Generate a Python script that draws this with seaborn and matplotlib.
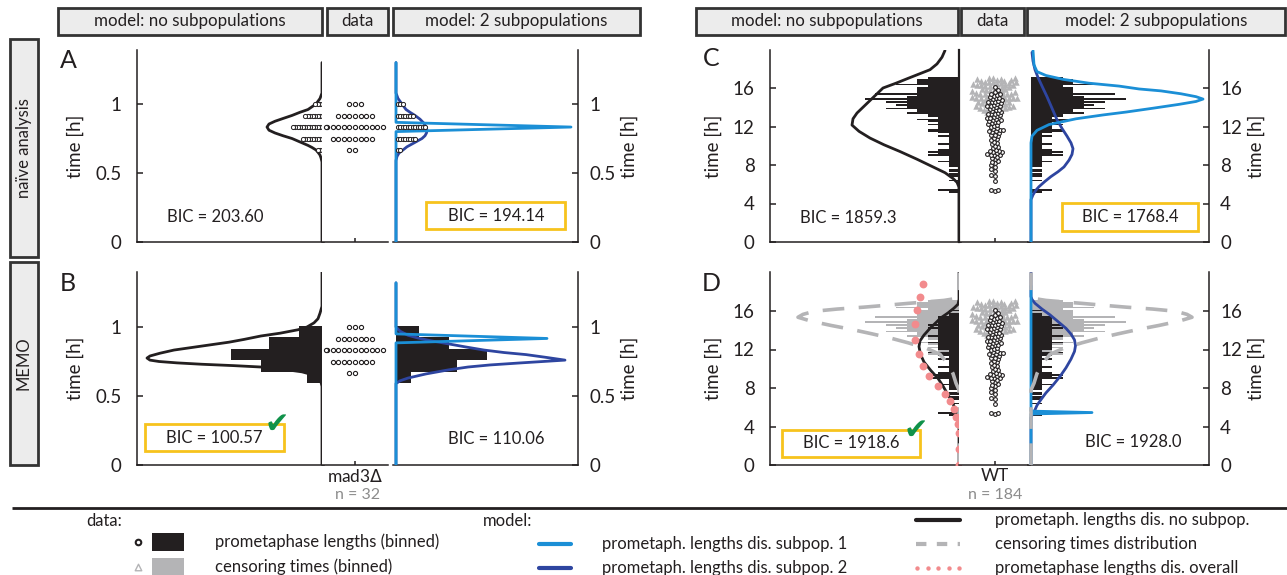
import numpy as np
import matplotlib
matplotlib.use("Agg")
import matplotlib.pyplot as plt
from matplotlib.patches import Rectangle
from matplotlib.markers import MarkerStyle
import seaborn as sns

W, H = 1287, 575

# ---------------- data ----------------
# mad3-delta cells (panels A, B): prometaphase length [min] and number of cells
mad3_minutes = [40, 45, 50, 55, 60]
mad3_cells = [2, 8, 12, 7, 3]

# wild type cells (panels C, D) [min]: observed prometaphase lengths and censoring times
wt_events = [315, 325, 325, 380, 410, 420, 445, 455, 470, 480,
             490, 500, 505, 515, 525, 530, 540, 545, 545, 550,
             555, 560, 560, 565, 570, 575, 585, 590, 600, 610,
             615, 625, 635, 640, 650, 660, 665, 670, 680, 685,
             690, 695, 700, 700, 705, 710, 720, 725, 730, 735,
             740, 745, 750, 755, 760, 760, 765, 770, 775, 780,
             785, 790, 795, 800, 800, 805, 810, 815, 820, 825,
             830, 835, 840, 845, 850, 850, 855, 860, 865, 870,
             870, 875, 880, 885, 890, 895, 900, 905, 910, 915,
             920, 925, 935, 945, 965]
wt_censored = [695, 715, 735, 750, 765, 780, 790,
               800, 805, 810, 815, 820, 825, 830, 835, 835, 835, 835,
               840, 845, 845, 850, 855, 855, 860, 860, 865, 870, 870, 875, 875, 880,
               885, 885, 890, 895, 895, 895, 895, 895, 895,
               900, 905, 905, 910, 915, 920, 925, 925, 925, 925, 925,
               930, 935, 935, 940, 940, 945, 950, 950, 955, 955, 960, 965, 965, 970,
               975, 975, 980, 980, 980, 980,
               985, 985, 990, 990, 995, 995, 1000, 1000, 1005, 1005, 1010, 1010,
               1015, 1015, 1020, 1020, 1025]

# model densities along the time axis [h]; densities in arbitrary units
A_none_t = [0, 0.58, 0.61, 0.63, 0.65, 0.667, 0.685, 0.70, 0.725, 0.75, 0.77, 0.79, 0.81, 0.833,
            0.855, 0.875, 0.895, 0.917, 0.94, 0.96, 0.98, 1.0, 1.02, 1.04, 1.06, 1.08, 1.30]
A_none_d = [0, 0, 1, 2, 4, 6, 10, 14, 22, 30, 39, 47, 53, 55,
            53, 47, 39, 30, 22, 14, 10, 6, 4, 2, 1, 0, 0]
A_sub2_t = [0, 0.59, 0.62, 0.645, 0.667, 0.69, 0.71, 0.73, 0.75, 0.77, 0.79, 0.81, 0.833, 0.86,
            0.89, 0.917, 0.94, 0.96, 0.98, 1.0, 1.02, 1.04, 1.06, 1.08, 1.30]
A_sub2_d = [0, 0, 1, 3, 7, 11, 16, 21, 26, 29, 30.5, 31, 30, 28,
            24, 19, 14, 10, 8, 6, 4, 2, 1, 0, 0]
A_sub1_t = [0, 0.80, 0.833, 0.867, 1.30]
A_sub1_d = [0, 0, 175, 0, 0]

B_none_t = [0, 0.57, 0.60, 0.63, 0.655, 0.675, 0.69, 0.70, 0.71, 0.72, 0.73, 0.74, 0.75, 0.76,
            0.775, 0.79, 0.81, 0.833, 0.86, 0.89, 0.91, 0.935, 0.955, 0.98, 1.0, 1.03, 1.06,
            1.10, 1.15, 1.40]
B_none_d = [0, 0, 1, 4, 10, 20, 35, 48, 61, 88, 120, 145, 163, 172,
            175, 172, 162, 148, 122, 93, 78, 61, 42, 24, 15, 8, 4,
            2, 0, 0]
B_sub2_t = [0, 0.59, 0.61, 0.63, 0.66, 0.69, 0.71, 0.725, 0.74, 0.76, 0.78, 0.80, 0.815, 0.833,
            0.855, 0.877, 0.90, 0.92, 0.94, 0.97, 1.0, 1.32]
B_sub2_d = [0, 0, 4, 12, 30, 53, 72, 94, 125, 169, 150, 130, 108, 88,
            70, 53, 35, 22, 12, 4, 0, 0]
B_sub1_t = [0, 0.885, 0.917, 0.95, 1.32]
B_sub1_d = [0, 0, 151, 0, 0]

C_none_t = [0, 5.7, 6.2, 6.6, 7.2, 7.8, 8.6, 9.4, 10.1, 10.8, 11.5, 12.15, 12.8, 13.4, 14.1,
            14.8, 15.4, 16.0, 16.5, 17.0, 17.45, 17.9, 18.5, 19.2, 19.9]
C_none_d = [0, 0, 2, 6, 14, 26, 42, 59, 75, 89, 100, 107, 106, 102, 95,
            88, 82, 76, 63, 51, 40, 29, 22, 17, 14]
C_sub1_t = [0, 10.3, 11.0, 11.6, 12.2, 12.8, 13.2, 13.5, 13.9, 14.3, 14.6, 14.85, 15.1, 15.4,
            15.7, 15.9, 16.2, 16.5, 16.9, 17.3, 17.7, 18.4, 19.9]
C_sub1_d = [0, 0, 1, 6, 18, 45, 72, 95, 122, 148, 165, 172, 165, 150,
            130, 108, 88, 58, 32, 15, 6, 3, 2]
C_sub2_t = [0, 4.4, 4.9, 5.4, 5.75, 6.3, 6.8, 7.3, 7.8, 8.5, 9.1, 9.7, 10.3, 11.0, 11.8,
            12.7, 13.9, 15.1, 16.2, 17.1, 17.9, 18.8, 19.7]
C_sub2_d = [0, 0, 2, 5, 8, 14, 20, 27, 33, 38, 41, 42, 40, 36, 31,
            26, 21, 16, 11, 7, 4, 2, 1]

D_none_t = [0, 3.8, 4.6, 5.5, 6.4, 7.3, 8.2, 9.0, 9.8, 10.7, 11.5, 12.3, 12.9, 13.5, 14.2,
            14.8, 15.3, 15.8, 16.3, 16.7, 17.2, 20]
D_none_d = [0, 0, 1, 3, 6, 11, 16, 21, 28, 35, 38.5, 40, 39, 35, 29,
            23, 18, 11, 5, 1, 0, 0]
D_sub2_t = [0, 4.9, 5.2, 5.5, 6.2, 6.8, 7.5, 8.3, 9.2, 10.1, 11.0, 11.8, 12.4, 13.0, 13.6,
            14.2, 14.9, 15.6, 16.2, 16.8, 17.2, 17.5, 20]
D_sub2_d = [0, 0, 1, 3, 6, 10, 15, 22, 29, 35, 40, 43.5, 44.5, 43.5, 40,
            35, 27, 19, 11, 4, 1, 0, 0]
D_sub1_t = [0, 5.3, 5.45, 5.6, 18.6]
D_sub1_d = [0, 0, 61, 0, 0]
D_cens_t = [0, 7.8, 8.5, 9.5, 10.5, 11.5, 12.1, 12.7, 13.2, 13.65, 14.1, 14.5, 14.95, 15.35,
            15.65, 15.97, 16.2, 16.4, 16.6, 16.8, 16.95, 17.1, 17.25, 17.4, 20]
D_cens_d = [0, 0, 3, 6, 11, 19, 32, 51, 69, 88, 108, 128, 148, 161,
            156, 145, 122, 95, 72, 50, 32, 15, 6, 0, 0]
D_all_t = [0, 1.7, 3.3, 4.3, 5.0, 5.8, 6.6, 7.4, 8.2, 9.2, 10.3, 11.5, 13.0, 14.7, 16.1, 17.5, 18.8]
D_all_d = [0, 0, 0, 1, 3, 5, 9, 14, 21, 30, 36, 40, 44, 44, 42, 39, 36]

BIC = {"A": ("203.60", "194.14"), "B": ("100.57", "110.06"),
       "C": ("1859.3", "1768.4"), "D": ("1918.6", "1928.0")}

# ---------------- style ----------------
BLACK = "#231f20"
LBLUE = "#1b8fd6"
DBLUE = "#2e45a0"
GRAY = "#b4b4b6"
PINK = "#f28b8d"
GOLD = "#f7c31d"
GREEN = "#10924a"

sns.set_theme(style="ticks")
plt.rcParams["font.family"] = ["Lato", "DejaVu Sans"]
plt.rcParams.update({"axes.linewidth": 1.1, "ytick.major.width": 1.1, "xtick.major.width": 1.1,
                     "text.color": BLACK, "axes.labelcolor": BLACK,
                     "xtick.color": BLACK, "ytick.color": BLACK,
                     "axes.edgecolor": BLACK})

fig = plt.figure(figsize=(W / 100, H / 100), dpi=100)


def axes_px(x0, y0, x1, y1):
    return fig.add_axes([x0 / W, 1 - y1 / H, (x1 - x0) / W, (y1 - y0) / H])


def box_px(x0, y0, x1, y1, **kw):
    fig.add_artist(Rectangle((x0 / W, 1 - y1 / H), (x1 - x0) / W, (y1 - y0) / H,
                             transform=fig.transFigure, **kw))


def text_px(x, y, s, **kw):
    kw.setdefault("ha", "center")
    kw.setdefault("va", "center")
    return fig.text(x / W, 1 - y / H, s, **kw)


def curve(ax, t, d, color, lw=2.0, **kw):
    sns.lineplot(x=d, y=t, sort=False, estimator=None, color=color, lw=lw, ax=ax,
                 zorder=3, **kw)


def hist(ax, t, edges, unit, color):
    sns.histplot(y=t, bins=list(edges), weights=np.full(len(t), unit),
                 color=color, alpha=1, linewidth=0, ax=ax)


def make_panel(xs, y_top, y_bot, px_per_h, yticks):
    xl0, base_l, xd1, xr0, base_r, xr1 = xs
    axl = axes_px(xl0, y_top, base_l + 2, y_bot)
    axd = axes_px(base_l, y_top, xd1, y_bot)
    axr = axes_px(xr0, y_top, xr1, y_bot)
    lims = dict(l=(base_l - xl0, -2), r=(-(base_r - xr0), xr1 - base_r),
                ymax=(y_bot - y_top) / px_per_h, yticks=yticks)
    return axl, axd, axr, lims


def finish(axl, axd, axr, lims, xlabel=None, data_spine=False):
    for ax in (axl, axd, axr):
        ax.set_ylim(0, lims["ymax"])
        ax.set_xlabel("")
        ax.set_ylabel("")
        for s in ax.spines.values():
            s.set_visible(False)
        ax.spines["bottom"].set_visible(True)
    axl.set_xlim(*lims["l"])
    axr.set_xlim(*lims["r"])
    axd.set_xlim(-0.45, 0.45)
    axl.spines["left"].set_visible(True)
    axr.spines["right"].set_visible(True)
    if data_spine:
        axd.spines["left"].set_visible(True)
        axd.spines["left"].set_linewidth(1.6)
    for ax in (axl, axr):
        ax.set_xticks([])
        ax.set_yticks(lims["yticks"])
        ax.set_yticklabels([f"{v:g}" for v in lims["yticks"]], fontsize=13.5)
        ax.set_ylabel("time [h]", fontsize=13.5)
    axl.tick_params(axis="y", direction="in", length=4, pad=11)
    axr.yaxis.tick_right()
    axr.yaxis.set_label_position("right")
    axr.tick_params(axis="y", direction="in", length=4, pad=8)
    axl.yaxis.labelpad = 8
    axr.yaxis.labelpad = 4
    axd.set_yticks([])
    axd.set_xticks([0])
    axd.set_xticklabels([xlabel or ""], fontsize=12.5)
    axd.tick_params(axis="x", direction="in", length=3, pad=2)


def enlarge(ax, marker, k):
    # draw the swarm markers larger than the spacing used to lay them out
    ms = MarkerStyle(marker)
    ax.collections[-1].set_paths([ms.get_path().transformed(ms.get_transform().frozen().scale(k))])


def swarm(ax, t_events, t_cens=None, size=3.0, grow=1.0):
    if t_cens is not None:
        sns.swarmplot(x=np.zeros(len(t_cens)), y=t_cens, native_scale=True, orient="x",
                      marker="^", color=GRAY, size=2.9, linewidth=0, ax=ax, warn_thresh=1)
        enlarge(ax, "^", 1.6)
    sns.swarmplot(x=np.zeros(len(t_events)), y=t_events, native_scale=True, orient="x",
                  marker="o", color="white", edgecolor=BLACK, linewidth=0.8, size=size,
                  ax=ax, warn_thresh=1)
    enlarge(ax, "o", grow)


mad3_h = np.repeat(mad3_minutes, mad3_cells) / 60
mad3_edges = (np.arange(35, 61, 5) + 0.5) / 60
ev_h = np.array(wt_events) / 60
ce_h = np.array(wt_censored) / 60
all_h = np.concatenate([ev_h, ce_h])
wt_edges = (np.arange(0, 1210, 10) - 2.5) / 60

LEFT = (137, 322, 388, 393, 396, 578)
RIGHT = (770, 959, 1030, 1028, 1031, 1209)
UNIT_CD = 10.5

# ---- panel A: naive, mad3 ----
axl, axd, axr, lims = make_panel(LEFT, 50, 242, 138, [0, 0.5, 1])
circ_x = np.concatenate([(np.arange(n) + 0.7) * 2.5 for n in mad3_cells])
for ax in (axl, axr):
    sns.scatterplot(x=circ_x, y=mad3_h, marker="o", s=9, facecolor="white",
                    edgecolor=BLACK, linewidth=0.7, ax=ax, zorder=4)
curve(axl, A_none_t, A_none_d, BLACK)
curve(axr, A_sub2_t, A_sub2_d, DBLUE)
curve(axr, A_sub1_t, A_sub1_d, LBLUE)
swarm(axd, mad3_h)
finish(axl, axd, axr, lims)

# ---- panel B: MEMO, mad3 ----
axl, axd, axr, lims = make_panel(LEFT, 272, 465, 138, [0, 0.5, 1])
for ax in (axl, axr):
    hist(ax, mad3_h, mad3_edges, 7.6, BLACK)
curve(axl, B_none_t, B_none_d, BLACK)
curve(axr, B_sub2_t, B_sub2_d, DBLUE)
curve(axr, B_sub1_t, B_sub1_d, LBLUE)
swarm(axd, mad3_h)
finish(axl, axd, axr, lims, "mad3$\\mathit{\\Delta}$")

# ---- panel C: naive, WT ----
axl, axd, axr, lims = make_panel(RIGHT, 50, 242, 9.625, [0, 4, 8, 12, 16])
for ax in (axl, axr):
    hist(ax, all_h, wt_edges, UNIT_CD, BLACK)
curve(axl, C_none_t, C_none_d, BLACK)
curve(axr, C_sub2_t, C_sub2_d, DBLUE)
curve(axr, C_sub1_t, C_sub1_d, LBLUE)
swarm(axd, ev_h, ce_h, size=1.6, grow=1.7)
finish(axl, axd, axr, lims, data_spine=True)

# ---- panel D: MEMO, WT (censored stacked in grey behind the observed lengths) ----
axl, axd, axr, lims = make_panel(RIGHT, 272, 465, 9.625, [0, 4, 8, 12, 16])
for ax in (axl, axr):
    hist(ax, all_h, wt_edges, UNIT_CD, GRAY)
    hist(ax, ev_h, wt_edges, UNIT_CD, BLACK)
curve(axl, D_none_t, D_none_d, BLACK)
curve(axr, D_sub2_t, D_sub2_d, DBLUE)
curve(axr, D_sub1_t, D_sub1_d, LBLUE)
for ax in (axl, axr):
    curve(ax, D_cens_t, D_cens_d, GRAY, lw=2.6, linestyle=(0, (6, 4)))
sns.scatterplot(x=D_all_d, y=D_all_t, color=PINK, s=32, linewidth=0, ax=axl, zorder=5)
swarm(axd, ev_h, ce_h, size=1.6, grow=1.7)
finish(axl, axd, axr, lims, "WT")

text_px(358, 495, "n = 32", fontsize=11.5, color="#8c8c8c")
text_px(995, 495, "n = 184", fontsize=11.5, color="#8c8c8c")

# ---------------- headers, labels, BIC ----------------
HEAD = dict(fc="#ececec", ec="#333333", lw=2)
for x0, x1, s in [(58, 322, "model: no subpopulations"), (327, 388, "data"),
                  (393, 640, "model: 2 subpopulations"),
                  (696, 958, "model: no subpopulations"), (961, 1024, "data"),
                  (1027, 1285, "model: 2 subpopulations")]:
    box_px(x0, 8, x1, 35, **HEAD)
    text_px((x0 + x1) / 2, 21, s, fontsize=12.2)
for y0, y1, s in [(39, 257, "naïve analysis"), (262, 465, "MEMO")]:
    box_px(10, y0, 38, y1, **HEAD)
    text_px(24, (y0 + y1) / 2, s, fontsize=12, rotation=90)

for x, y, s in [(68, 61, "A"), (68, 284, "B"), (711, 59, "C"), (711, 284, "D")]:
    text_px(x, y, s, fontsize=18)

BT = dict(fontsize=12)
text_px(215, 217, "BIC = " + BIC["A"][0], **BT)
box_px(426, 202, 565, 229, fill=False, ec=GOLD, lw=2)
text_px(496, 216, "BIC = " + BIC["A"][1], **BT)
box_px(145, 424, 284, 451, fill=False, ec=GOLD, lw=2)
text_px(214, 438, "BIC = " + BIC["B"][0], **BT)
text_px(496, 439, "BIC = " + BIC["B"][1], **BT)
text_px(848, 218, "BIC = " + BIC["C"][0], **BT)
box_px(1062, 203, 1198, 231, fill=False, ec=GOLD, lw=2)
text_px(1130, 217, "BIC = " + BIC["C"][1], **BT)
box_px(782, 430, 920, 457, fill=False, ec=GOLD, lw=2)
text_px(851, 443, "BIC = " + BIC["D"][0], **BT)
text_px(1133, 442, "BIC = " + BIC["D"][1], **BT)
text_px(277, 425, "✔", fontsize=21, color=GREEN, family="DejaVu Sans")
text_px(916, 431, "✔", fontsize=21, color=GREEN, family="DejaVu Sans")

# ---------------- legend ----------------
leg = axes_px(0, 500, W, H)
leg.set_xlim(0, W)
leg.set_ylim(H, 500)
leg.axis("off")
leg.plot([12, W], [508, 508], color=BLACK, lw=2, solid_capstyle="butt")
LT = dict(fontsize=12, va="center")
leg.text(86, 521, "data:", **LT)
leg.scatter([138], [542], marker="o", s=16, fc="white", ec=BLACK, lw=1.5)
leg.add_patch(Rectangle((152, 533), 32, 18, fc=BLACK, ec="none"))
leg.text(215, 542, "prometaphase lengths (binned)", **LT)
leg.scatter([138], [567], marker="^", s=22, fc="white", ec=GRAY, lw=1)
leg.add_patch(Rectangle((152, 558), 32, 18, fc=GRAY, ec="none"))
leg.text(215, 567, "censoring times (binned)", **LT)
leg.text(483, 521, "model:", **LT)
leg.plot([539, 571], [544, 544], color=LBLUE, lw=3)
leg.text(602, 544, "prometaph. lengths dis. subpop. 1", **LT)
leg.plot([539, 571], [568, 568], color=DBLUE, lw=3)
leg.text(602, 568, "prometaph. lengths dis. subpop. 2", **LT)
leg.plot([916, 960], [520, 520], color=BLACK, lw=3)
leg.text(995, 520, "prometaph. lengths dis. no subpop.", **LT)
leg.plot([916, 960], [544, 544], color=GRAY, lw=3, linestyle=(0, (2.5, 2.5)))
leg.text(995, 544, "censoring times distribution", **LT)
leg.scatter(np.linspace(917, 959, 5), [568] * 5, s=10, color=PINK, lw=0)
leg.text(995, 568, "prometaphase lengths dis. overall", **LT)

fig.savefig("out.png", dpi=100)
